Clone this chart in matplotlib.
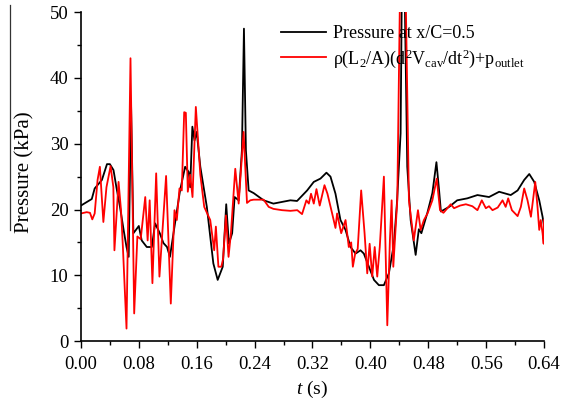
import matplotlib
matplotlib.use("Agg")
import matplotlib.pyplot as plt
from matplotlib.lines import Line2D
from matplotlib.ticker import MultipleLocator

plt.rcParams['font.family'] = ['Liberation Serif', 'DejaVu Serif']
plt.rcParams['mathtext.fontset'] = 'custom'
plt.rcParams['mathtext.rm'] = 'Liberation Serif'
plt.rcParams['mathtext.it'] = 'Liberation Serif:italic'

# Pressure at x/C = 0.5 (black)
t_black = [0.000, 0.015, 0.019, 0.029, 0.036, 0.040, 0.045, 0.049, 0.054, 0.059,
           0.063, 0.066, 0.0693, 0.0725, 0.076, 0.080, 0.084, 0.091, 0.098, 0.1025,
           0.109, 0.114, 0.119, 0.123, 0.130, 0.137, 0.144, 0.149, 0.151, 0.154,
           0.157, 0.160, 0.165, 0.174, 0.183, 0.189, 0.196, 0.2008, 0.2045, 0.209,
           0.2124, 0.218, 0.2225, 0.2253, 0.228, 0.2318, 0.2387, 0.2525, 0.266, 0.280,
           0.2895, 0.2987, 0.3126, 0.3218, 0.331, 0.3393, 0.3449, 0.3518, 0.3587, 0.3657,
           0.3726, 0.3795, 0.3864, 0.391, 0.398, 0.405, 0.4118, 0.4187, 0.4256, 0.4326,
           0.437, 0.4418, 0.4440, 0.4465, 0.451, 0.4557, 0.4626, 0.467, 0.4705, 0.4788,
           0.4857, 0.4913, 0.495, 0.4975, 0.5088, 0.520, 0.534, 0.548, 0.564, 0.578,
           0.594, 0.6035, 0.6126, 0.6196, 0.6265, 0.6334, 0.638, 0.640]
p_black = [20.6, 21.6, 23.2, 24.5, 26.9, 26.9, 26.0, 23.4, 20.4, 16.9,
           14.3, 12.8, 35.9, 16.4, 16.9, 17.5, 15.3, 14.3, 14.3, 17.9,
           16.4, 14.9, 14.3, 12.8, 17.9, 22.9, 26.5, 25.7, 23.4, 32.6,
           30.5, 31.8, 26.5, 20.4, 11.8, 9.3, 11.3, 20.8, 14.8, 16.4,
           21.9, 21.4, 29.0, 47.5, 29.0, 22.9, 22.5, 21.4, 20.9, 21.2,
           21.4, 21.3, 22.9, 24.2, 24.7, 25.6, 25.0, 22.4, 18.4, 16.9,
           14.3, 13.3, 13.8, 13.3, 11.3, 9.3, 8.5, 8.5, 10.3, 14.8,
           21.4, 31.6, 60.0, 60.0, 26.5, 18.4, 13.1, 17.0, 16.4, 19.5,
           22.5, 27.2, 22.9, 19.7, 20.4, 21.4, 21.7, 22.2, 21.9, 22.7,
           22.2, 22.9, 24.5, 25.4, 24.2, 21.4, 18.9, 17.5]

# rho(L2/A)(d2Vcav/dt2)+p_outlet (red)
t_red = [0.000, 0.008, 0.0125, 0.0157, 0.019, 0.023, 0.0262, 0.031, 0.0353, 0.041,
         0.0448, 0.0463, 0.052, 0.0554, 0.058, 0.063, 0.0685, 0.0736, 0.078, 0.0826,
         0.0889, 0.0922, 0.0950, 0.0988, 0.1040, 0.1085, 0.1177, 0.1242, 0.1293, 0.1325,
         0.1362, 0.1394, 0.1427, 0.1450, 0.1477, 0.151, 0.1542, 0.1588, 0.165, 0.1704,
         0.1787, 0.1842, 0.1865, 0.190, 0.194, 0.1965, 0.2004, 0.204, 0.2073, 0.2133,
         0.218, 0.2248, 0.2295, 0.2340, 0.2387, 0.2525, 0.2595, 0.266, 0.278, 0.2895,
         0.2990, 0.3056, 0.3116, 0.3150, 0.318, 0.3218, 0.3255, 0.330, 0.3366, 0.3407,
         0.3472, 0.3518, 0.354, 0.3597, 0.3657, 0.3702, 0.3735, 0.3758, 0.379, 0.3825,
         0.3873, 0.392, 0.3957, 0.399, 0.4026, 0.4060, 0.4095, 0.4130, 0.4187, 0.4234,
         0.427, 0.4294, 0.4317, 0.4372, 0.4418, 0.4478, 0.4533, 0.4600, 0.4658, 0.4695,
         0.474, 0.479, 0.4857, 0.4917, 0.4963, 0.501, 0.5065, 0.511, 0.5157, 0.524,
         0.532, 0.541, 0.548, 0.554, 0.5596, 0.5640, 0.5688, 0.5760, 0.5827, 0.587,
         0.5905, 0.5956, 0.6035, 0.608, 0.6126, 0.6172, 0.6219, 0.6279, 0.6310, 0.6334,
         0.6355, 0.638, 0.6395, 0.640]
p_red = [19.4, 19.6, 19.5, 18.5, 19.4, 24.5, 26.5, 18.1, 23.4, 26.6,
         23.4, 13.8, 24.2, 19.9, 14.3, 1.9, 43.0, 4.2, 15.9, 15.5,
         21.9, 15.3, 21.4, 8.8, 25.5, 9.8, 25.1, 5.7, 19.9, 18.4,
         23.2, 22.9, 34.8, 34.7, 22.7, 25.3, 21.9, 35.6, 25.3, 20.4,
         18.4, 13.8, 17.4, 11.3, 11.3, 12.5, 19.1, 12.8, 16.4, 26.2,
         20.9, 31.8, 21.0, 21.4, 21.5, 21.5, 20.4, 20.1, 19.9, 19.8,
         19.9, 19.3, 21.4, 20.9, 22.4, 20.9, 23.1, 20.6, 23.7, 22.4,
         19.4, 17.2, 19.4, 16.4, 18.4, 14.3, 15.0, 11.3, 13.3, 14.0,
         22.9, 16.4, 10.3, 14.8, 9.8, 14.3, 9.8, 14.3, 25.0, 2.4,
         15.3, 21.4, 11.3, 21.4, 60.0, 60.0, 21.4, 15.3, 19.9, 16.9,
         18.4, 19.4, 21.4, 24.7, 19.9, 19.5, 20.2, 20.8, 20.2, 20.6,
         20.8, 20.5, 19.9, 21.4, 20.2, 20.5, 19.9, 20.3, 21.4, 20.4,
         21.7, 19.9, 19.0, 20.4, 23.2, 21.4, 18.9, 24.2, 20.4, 16.9,
         18.4, 16.4, 14.8, 18.4]

x_ticks = [0.00, 0.08, 0.16, 0.24, 0.32, 0.40, 0.48, 0.56, 0.64]
x_ticklabels = ["0.00", "0.08", "0.16", "0.24", "0.32", "0.40", "0.48", "0.56", "0.64"]
y_ticks = [0, 10, 20, 30, 40, 50]

label_black = "Pressure at x/C=0.5"
label_red = r"ρ(L$_2$/A)(d$^2$V$_{\mathrm{cav}}$/dt$^2$)+p$_{\mathrm{outlet}}$"

fig = plt.figure(figsize=(5.62, 4.07), dpi=100)
ax = fig.add_axes([0.144, 0.162, 0.824, 0.808])

ax.plot(t_black, p_black, color='black', lw=1.3, label=label_black)
ax.plot(t_red, p_red, color='#ff0000', lw=1.3, label=label_red)

ax.set_xlim(0, 0.64)
ax.set_ylim(0, 50)
ax.set_xticks(x_ticks)
ax.set_xticklabels(x_ticklabels)
ax.set_yticks(y_ticks)
ax.xaxis.set_minor_locator(MultipleLocator(0.04))
ax.yaxis.set_minor_locator(MultipleLocator(5))
ax.tick_params(which='major', direction='out', length=5, width=1.0, labelsize=13.5, pad=4)
ax.tick_params(axis='x', which='major', pad=6)
ax.tick_params(which='minor', direction='out', length=3, width=1.0)
for s in ['top', 'right']:
    ax.spines[s].set_visible(False)
for s in ['left', 'bottom']:
    ax.spines[s].set_linewidth(1.2)

ax.set_xlabel(r"$\it{t}$ (s)", fontsize=14, labelpad=4)
ax.set_ylabel("Pressure (kPa)", fontsize=15)
ax.yaxis.set_label_coords(-0.101, 0.514)

leg = ax.legend(loc='upper right', bbox_to_anchor=(0.985, 1.0), frameon=False, fontsize=13,
                handlelength=2.5, handletextpad=0.35, labelspacing=0.3, borderaxespad=0.3)

# overline drawn above the y-axis label
fig.add_artist(Line2D([10 / 562, 10 / 562], [(407 - 5) / 407, (407 - 230) / 407],
                      transform=fig.transFigure, color='#333333', lw=0.9))

fig.savefig("out.png", dpi=100)
